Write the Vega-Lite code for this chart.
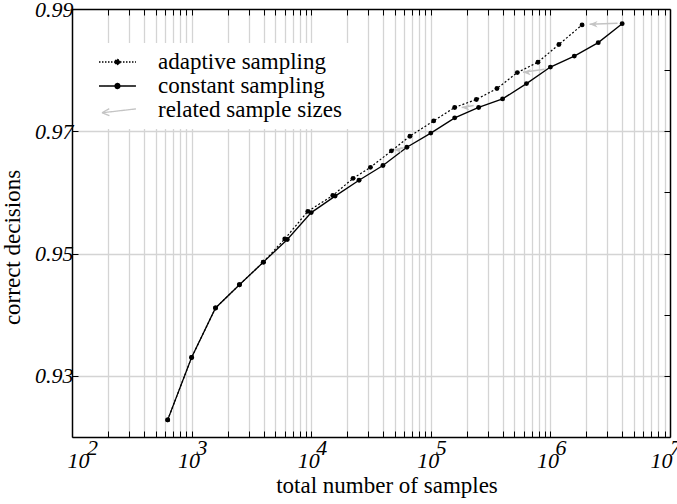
{
  "$schema": "https://vega.github.io/schema/vega-lite/v6.json",
  "width": 598,
  "height": 428,
  "autosize": "none",
  "padding": {"left": 72, "top": 9, "right": 7, "bottom": 67},
  "background": "white",
  "config": {
    "view": {"stroke": null},
    "font": "Liberation Serif",
    "axis": {
      "domain": true,
      "domainColor": "black",
      "domainWidth": 1.5,
      "tickColor": "black",
      "tickWidth": 1,
      "tickSize": -6,
      "labelColor": "black",
      "titleColor": "black",
      "labelFont": "Liberation Serif",
      "titleFont": "Liberation Serif",
      "labelFontStyle": "italic",
      "labelFontSize": 22,
      "titleFontSize": 23,
      "titleFontWeight": "normal",
      "labelOverlap": false
    }
  },
  "datasets": {
    "curves": [
      {"series": "adaptive sampling", "n": 631, "acc": 0.9228},
      {"series": "adaptive sampling", "n": 1000, "acc": 0.9330},
      {"series": "adaptive sampling", "n": 1585, "acc": 0.9411},
      {"series": "adaptive sampling", "n": 2512, "acc": 0.9449},
      {"series": "adaptive sampling", "n": 3981, "acc": 0.9486},
      {"series": "adaptive sampling", "n": 6015, "acc": 0.9524},
      {"series": "adaptive sampling", "n": 9367, "acc": 0.9569},
      {"series": "adaptive sampling", "n": 15150, "acc": 0.9595},
      {"series": "adaptive sampling", "n": 22390, "acc": 0.9623},
      {"series": "adaptive sampling", "n": 31290, "acc": 0.9641},
      {"series": "adaptive sampling", "n": 46880, "acc": 0.9668},
      {"series": "adaptive sampling", "n": 66900, "acc": 0.9692},
      {"series": "adaptive sampling", "n": 105700, "acc": 0.9717},
      {"series": "adaptive sampling", "n": 158400, "acc": 0.9739},
      {"series": "adaptive sampling", "n": 240400, "acc": 0.9752},
      {"series": "adaptive sampling", "n": 357300, "acc": 0.9770},
      {"series": "adaptive sampling", "n": 529000, "acc": 0.9796},
      {"series": "adaptive sampling", "n": 786400, "acc": 0.9813},
      {"series": "adaptive sampling", "n": 1178000, "acc": 0.9842},
      {"series": "adaptive sampling", "n": 1840000, "acc": 0.9874},
      {"series": "constant sampling", "n": 631, "acc": 0.9228},
      {"series": "constant sampling", "n": 1000, "acc": 0.9330},
      {"series": "constant sampling", "n": 1585, "acc": 0.9411},
      {"series": "constant sampling", "n": 2512, "acc": 0.9449},
      {"series": "constant sampling", "n": 3981, "acc": 0.9486},
      {"series": "constant sampling", "n": 6310, "acc": 0.9523},
      {"series": "constant sampling", "n": 10000, "acc": 0.9567},
      {"series": "constant sampling", "n": 15849, "acc": 0.9594},
      {"series": "constant sampling", "n": 25119, "acc": 0.9620},
      {"series": "constant sampling", "n": 39811, "acc": 0.9644},
      {"series": "constant sampling", "n": 63096, "acc": 0.9674},
      {"series": "constant sampling", "n": 100000, "acc": 0.9697},
      {"series": "constant sampling", "n": 158489, "acc": 0.9722},
      {"series": "constant sampling", "n": 251189, "acc": 0.9739},
      {"series": "constant sampling", "n": 398107, "acc": 0.9753},
      {"series": "constant sampling", "n": 630957, "acc": 0.9778},
      {"series": "constant sampling", "n": 1000000, "acc": 0.9805},
      {"series": "constant sampling", "n": 1584893, "acc": 0.9823},
      {"series": "constant sampling", "n": 2511886, "acc": 0.9845},
      {"series": "constant sampling", "n": 3981072, "acc": 0.9876}
    ],
    "arrows": [
      {"n": 3642000, "acc": 0.98766, "n2": 2126000, "acc2": 0.9875},
      {"n": 894400, "acc": 0.98014, "n2": 589200, "acc2": 0.97965},
      {"n": 228200, "acc": 0.97422, "n2": 181200, "acc2": 0.97389},
      {"n": 59370, "acc": 0.9673, "n2": 49450, "acc2": 0.96694}
    ]
  },
  "layer": [
    {
      "data": {"name": "curves"},
      "transform": [{"filter": "datum.series === 'adaptive sampling'"}],
      "mark": {"type": "line", "color": "black", "strokeWidth": 1.2, "strokeDash": [2, 2]},
      "encoding": {
        "x": {
          "field": "n", "type": "quantitative",
          "scale": {"type": "log", "domain": [100, 10000000], "nice": false},
          "axis": {
            "orient": "bottom",
            "values": [100,200,300,400,500,600,700,800,900,1000,2000,3000,4000,5000,6000,7000,8000,9000,10000,20000,30000,40000,50000,60000,70000,80000,90000,100000,200000,300000,400000,500000,600000,700000,800000,900000,1000000,2000000,3000000,4000000,5000000,6000000,7000000,8000000,9000000,10000000],
            "grid": true,
            "gridColor": {"condition": {"test": "datum.value <= 101 || datum.value >= 9999999", "value": "transparent"}, "value": "#d4d4d4"},
            "gridWidth": 1.3,
            "labelExpr": "abs(log(datum.value)/LN10 - round(log(datum.value)/LN10)) < 0.001 ? '10' : ''",
            "labelPadding": 19,
            "labelOffset": {"condition": [{"test": "datum.value <= 101", "value": 6}, {"test": "datum.value >= 9999999", "value": -9}], "value": -3},
            "labelAlign": "center",
            "labelBaseline": "top",
            "title": "total number of samples",
            "titleX": 314.5,
            "titleY": 55,
            "titleAlign": "center",
            "titleBaseline": "alphabetic"
          }
        },
        "y": {
          "field": "acc", "type": "quantitative",
          "scale": {"domain": [0.92, 0.99], "zero": false, "nice": false},
          "axis": {
            "orient": "left",
            "values": [0.93, 0.95, 0.97, 0.99],
            "format": ".2f",
            "grid": true,
            "gridColor": {"condition": {"test": "datum.value >= 0.985", "value": "transparent"}, "value": "#d4d4d4"},
            "gridWidth": 1.3,
            "labelPadding": 5,
            "title": "correct decisions",
            "titleX": -60,
            "titleY": 238,
            "titleAngle": 270,
            "titleAlign": "center",
            "titleBaseline": "middle"
          }
        }
      }
    },
    {
      "data": {"name": "curves"},
      "transform": [{"filter": "datum.series === 'constant sampling'"}],
      "mark": {"type": "line", "color": "black", "strokeWidth": 1.3},
      "encoding": {
        "x": {
          "field": "n", "type": "quantitative",
          "scale": {"type": "log", "domain": [100, 10000000], "nice": false},
          "axis": {
            "orient": "bottom",
            "values": [100, 1000, 10000, 100000, 1000000, 10000000],
            "labelExpr": "'' + round(log(datum.value)/LN10)",
            "domain": false,
            "ticks": false,
            "grid": false,
            "labelPadding": 0,
            "labelOffset": {"condition": [{"test": "datum.value <= 101", "value": 20}, {"test": "datum.value >= 9999999", "value": 5}], "value": 10},
            "labelAlign": "center",
            "labelBaseline": "top",
            "title": null
          }
        },
        "y": {
          "field": "acc", "type": "quantitative",
          "scale": {"domain": [0.92, 0.99], "zero": false, "nice": false},
          "axis": null
        }
      }
    },
    {
      "data": {"name": "curves"},
      "mark": {"type": "point", "filled": true, "color": "black", "opacity": 1, "size": 24, "shape": "circle"},
      "encoding": {
        "x": {
          "field": "n", "type": "quantitative",
          "scale": {"type": "log", "domain": [100, 10000000], "nice": false},
          "axis": {
            "orient": "top",
            "values": [100,200,300,400,500,600,700,800,900,1000,2000,3000,4000,5000,6000,7000,8000,9000,10000,20000,30000,40000,50000,60000,70000,80000,90000,100000,200000,300000,400000,500000,600000,700000,800000,900000,1000000,2000000,3000000,4000000,5000000,6000000,7000000,8000000,9000000,10000000],
            "grid": false,
            "labels": false,
            "title": null
          }
        },
        "y": {
          "field": "acc", "type": "quantitative",
          "scale": {"domain": [0.92, 0.99], "zero": false, "nice": false},
          "axis": {
            "orient": "right",
            "values": [0.93, 0.94, 0.95, 0.96, 0.97, 0.98],
            "grid": false,
            "labels": false,
            "title": null
          }
        }
      }
    },
    {
      "data": {"name": "arrows"},
      "mark": {"type": "rule", "color": "#c4c4c4", "strokeWidth": 1.5},
      "encoding": {
        "x": {"field": "n", "type": "quantitative", "scale": {"type": "log", "domain": [100, 10000000], "nice": false}, "axis": null},
        "x2": {"field": "n2"},
        "y": {"field": "acc", "type": "quantitative", "scale": {"domain": [0.92, 0.99], "zero": false, "nice": false}, "axis": null},
        "y2": {"field": "acc2"}
      }
    },
    {
      "data": {"name": "arrows"},
      "mark": {"type": "point", "filled": true, "color": "#c4c4c4", "opacity": 1, "size": 64, "shape": "M0,0L2,-0.8L1.4,0L2,0.8Z"},
      "encoding": {
        "x": {"field": "n2", "type": "quantitative", "scale": {"type": "log", "domain": [100, 10000000], "nice": false}, "axis": null},
        "y": {"field": "acc2", "type": "quantitative", "scale": {"domain": [0.92, 0.99], "zero": false, "nice": false}, "axis": null}
      }
    },
    {
      "data": {"name": "curves"},
      "mark": {"type": "point", "filled": true, "opacity": 0, "size": 484, "strokeWidth": 1.3},
      "encoding": {
        "x": {"field": "n", "type": "quantitative", "scale": {"type": "log", "domain": [100, 10000000], "nice": false}, "axis": null},
        "y": {"field": "acc", "type": "quantitative", "scale": {"domain": [0.92, 0.99], "zero": false, "nice": false}, "axis": null},
        "shape": {
          "field": "series", "type": "nominal",
          "scale": {"domain": ["adaptive sampling", "constant sampling", "related sample sizes"],
                    "range": ["M0.09,0L3.45,0M2.01,0L1.94,0.17L1.77,0.24L1.6,0.17L1.53,0L1.6,-0.17L1.77,-0.24L1.94,-0.17Z",
                              "M0.09,0L3.45,0M2.01,0L1.94,0.17L1.77,0.24L1.6,0.17L1.53,0L1.6,-0.17L1.77,-0.24L1.94,-0.17Z",
                              "M3.45,-0.1L0.4,0.25M0.36,0.25L1.02,-0.12M0.36,0.25L1.04,0.52"]},
          "legend": {"title": null, "orient": "none", "legendX": 7, "legendY": 34, "fillColor": "white", "padding": 7, "rowPadding": -8, "symbolSize": 484, "symbolStrokeWidth": 1.3, "symbolOpacity": 1, "labelOffset": 48, "labelFont": "Liberation Serif", "labelFontSize": 23, "labelFontStyle": "normal", "labelColor": "black", "labelLimit": 400, "labelBaseline": "middle"}
        },
        "fill": {
          "field": "series", "type": "nominal",
          "scale": {"domain": ["adaptive sampling", "constant sampling", "related sample sizes"], "range": ["black", "black", "transparent"]},
          "legend": {"title": null, "orient": "none", "legendX": 7, "legendY": 34, "fillColor": "white", "padding": 7, "rowPadding": -8, "symbolSize": 484, "symbolStrokeWidth": 1.3, "symbolOpacity": 1, "labelOffset": 48, "labelFont": "Liberation Serif", "labelFontSize": 23, "labelFontStyle": "normal", "labelColor": "black", "labelLimit": 400, "labelBaseline": "middle"}
        },
        "stroke": {
          "field": "series", "type": "nominal",
          "scale": {"domain": ["adaptive sampling", "constant sampling", "related sample sizes"], "range": ["black", "black", "#c4c4c4"]},
          "legend": {"title": null, "orient": "none", "legendX": 7, "legendY": 34, "fillColor": "white", "padding": 7, "rowPadding": -8, "symbolSize": 484, "symbolStrokeWidth": 1.3, "symbolOpacity": 1, "labelOffset": 48, "labelFont": "Liberation Serif", "labelFontSize": 23, "labelFontStyle": "normal", "labelColor": "black", "labelLimit": 400, "labelBaseline": "middle"}
        },
        "strokeDash": {
          "field": "series", "type": "nominal",
          "scale": {"domain": ["adaptive sampling", "constant sampling", "related sample sizes"], "range": [[1.5, 1.5], [1, 0], [1, 0]]},
          "legend": {"title": null, "orient": "none", "legendX": 7, "legendY": 34, "fillColor": "white", "padding": 7, "rowPadding": -8, "symbolSize": 484, "symbolStrokeWidth": 1.3, "symbolOpacity": 1, "labelOffset": 48, "labelFont": "Liberation Serif", "labelFontSize": 23, "labelFontStyle": "normal", "labelColor": "black", "labelLimit": 400, "labelBaseline": "middle"}
        }
      }
    }
  ],
  "resolve": {"axis": {"x": "independent", "y": "independent"}}
}
